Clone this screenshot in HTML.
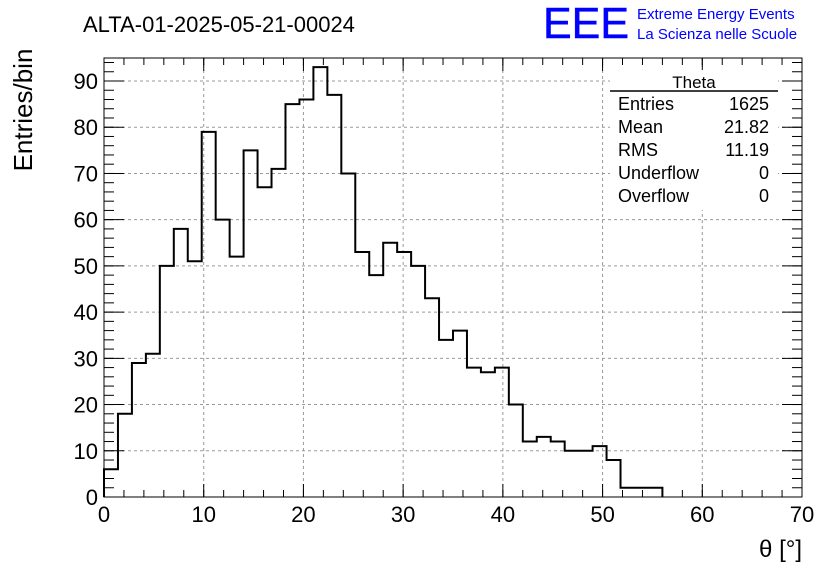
<!DOCTYPE html>
<html><head><meta charset="utf-8"><style>
body{margin:0;background:#fff}
svg{display:block;font-family:"Liberation Sans",sans-serif}
</style></head><body>
<svg id="c" width="836" height="572">
<text x="83" y="32" font-size="22">ALTA-01-2025-05-21-00024</text>
<text x="543" y="38" font-size="44" fill="#0000ff" stroke="#0000ff" stroke-width="0.5" textLength="86" lengthAdjust="spacingAndGlyphs">EEE</text>
<text x="637" y="19" font-size="15" fill="#0000ff">Extreme Energy Events</text>
<text x="637" y="39" font-size="15" fill="#0000ff">La Scienza nelle Scuole</text>
<text transform="translate(32,110) rotate(-90)" text-anchor="middle" font-size="26">Entries/bin</text>
<text x="802" y="557" text-anchor="end" font-size="24">θ [°]</text>
<g id="grid"></g><g id="axes"></g><path id="hist" fill="none" stroke="#000" stroke-width="2"></path>
<rect x="104" y="58" width="698" height="439" fill="none" stroke="#000" stroke-width="1"/>
<g font-size="18">
<rect x="610" y="70" width="168" height="140" fill="#fff"/>
<text x="694" y="88" text-anchor="middle" font-size="17">Theta</text>
<line x1="610" y1="91" x2="778" y2="91" stroke="#000" stroke-width="1.5"/>
<text x="618" y="110">Entries</text><text x="769" y="110" text-anchor="end">1625</text>
<text x="618" y="133">Mean</text><text x="769" y="133" text-anchor="end">21.82</text>
<text x="618" y="156">RMS</text><text x="769" y="156" text-anchor="end">11.19</text>
<text x="618" y="179">Underflow</text><text x="769" y="179" text-anchor="end">0</text>
<text x="618" y="202">Overflow</text><text x="769" y="202" text-anchor="end">0</text>
</g>
</svg>
<script>
const counts=[6,18,29,31,50,58,51,79,60,52,75,67,71,85,86,93,87,70,53,48,55,53,50,43,34,36,28,27,28,20,12,13,12,10,10,11,8,2,2,2];
const binWidth=1.4;
const xTicks=[0,10,20,30,40,50,60,70];
const yTicks=[0,10,20,30,40,50,60,70,80,90];
const NS="http://www.w3.org/2000/svg";
const X=v=>104+v*(698/70), Y=v=>497-v*(416/90);
const grid=document.getElementById('grid'),axes=document.getElementById('axes');
function mk(tag,a,p){const e=document.createElementNS(NS,tag);for(const k in a)e.setAttribute(k,a[k]);p.appendChild(e);return e;}
xTicks.forEach(t=>{
 if(t>0&&t<70){const g=mk('line',{x1:X(t),x2:X(t),y1:58,y2:497,stroke:'#999','stroke-dasharray':'3,3'},grid);
 
 }
 mk('line',{x1:X(t),x2:X(t),y1:497,y2:484,stroke:'#000'},axes);
 mk('line',{x1:X(t),x2:X(t),y1:58,y2:71,stroke:'#000'},axes);
 const l=mk('text',{x:X(t),y:522,'text-anchor':'middle','font-size':22},axes);l.textContent=t;
 
 
});
for(let m=0;m<=70;m+=2){mk('line',{x1:X(m),x2:X(m),y1:497,y2:490,stroke:'#000'},axes);mk('line',{x1:X(m),x2:X(m),y1:58,y2:65,stroke:'#000'},axes);}
yTicks.forEach(t=>{
 if(t>0){const g=mk('line',{x1:104,x2:802,y1:Y(t),y2:Y(t),stroke:'#999','stroke-dasharray':'3,3'},grid);
 
 }
 mk('line',{x1:104,x2:124,y1:Y(t),y2:Y(t),stroke:'#000'},axes);
 mk('line',{x1:782,x2:802,y1:Y(t),y2:Y(t),stroke:'#000'},axes);
 const l=mk('text',{x:98,y:Y(t)+8,'text-anchor':'end','font-size':22},axes);l.textContent=t;
 
 
});
for(let m=0;m<=95;m+=2){if(Y(m)<58)break;mk('line',{x1:104,x2:114,y1:Y(m),y2:Y(m),stroke:'#000'},axes);mk('line',{x1:792,x2:802,y1:Y(m),y2:Y(m),stroke:'#000'},axes);}
let d=`M${X(0)},${Y(0)}`;
counts.forEach((c,i)=>{d+=` L${X(i*binWidth)},${Y(c)} L${X((i+1)*binWidth)},${Y(c)}`;});
d+=` L${X(counts.length*binWidth)},${Y(0)}`;
document.getElementById('hist').setAttribute('d',d);
</script>
</body></html>
